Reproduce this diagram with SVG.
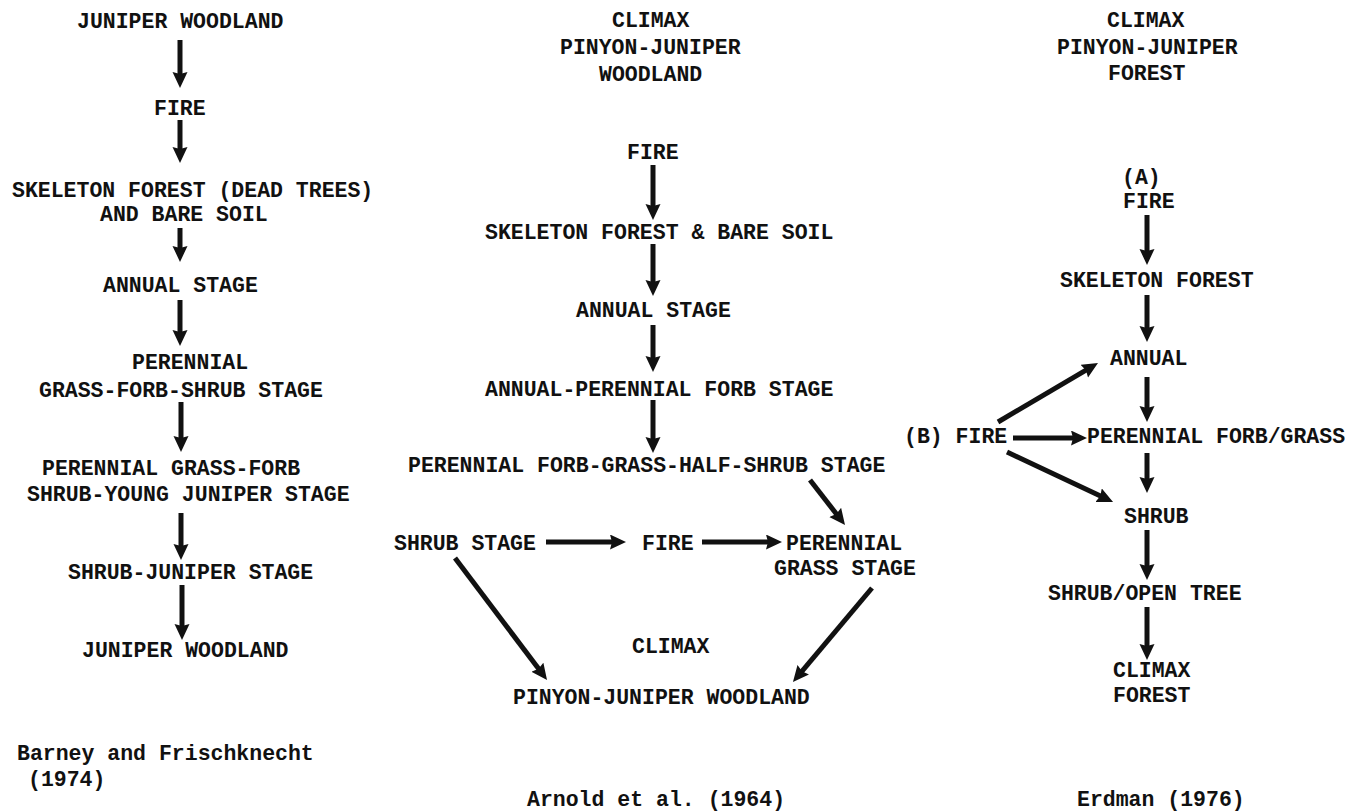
<svg xmlns="http://www.w3.org/2000/svg" width="1345" height="811" viewBox="0 0 1345 811">
<defs>
<style>
text{font-family:"Liberation Mono","DejaVu Sans Mono",monospace;font-size:21.5px;font-weight:bold;fill:#111}
.c line{stroke:#111;stroke-width:5;marker-end:url(#ah)}
</style>
<marker id="ah" markerUnits="userSpaceOnUse" markerWidth="18" markerHeight="16" refX="8" refY="7.5" orient="auto">
<path d="M0,0 L16,7.5 L0,15 L2,7.5 Z" fill="#111"/>
</marker>
</defs>
<rect width="1345" height="811" fill="#fff"/>
<g id="left">
<g id="l1"><text x="77" y="28">JUNIPER WOODLAND</text></g>
<g id="l2"><text x="154" y="115">FIRE</text></g>
<g id="l3"><text x="12" y="197">SKELETON FOREST (DEAD TREES)</text><text x="100" y="221">AND BARE SOIL</text></g>
<g id="l4"><text x="103" y="292">ANNUAL STAGE</text></g>
<g id="l5"><text x="132" y="369">PERENNIAL</text><text x="39" y="397">GRASS-FORB-SHRUB STAGE</text></g>
<g id="l6"><text x="42" y="475">PERENNIAL GRASS-FORB</text><text x="27" y="501">SHRUB-YOUNG JUNIPER STAGE</text></g>
<g id="l7"><text x="68" y="579">SHRUB-JUNIPER STAGE</text></g>
<g id="l8"><text x="82" y="657">JUNIPER WOODLAND</text></g>
<g id="l9"><text x="17" y="760">Barney and Frischknecht</text><text x="28" y="786">(1974)</text></g>
</g>
<g id="middle">
<g id="m1"><text x="612" y="27">CLIMAX</text><text x="560" y="54">PINYON-JUNIPER</text><text x="599" y="81">WOODLAND</text></g>
<g id="m2"><text x="627" y="159">FIRE</text></g>
<g id="m3"><text x="485" y="239">SKELETON FOREST &amp; BARE SOIL</text></g>
<g id="m4"><text x="576" y="317">ANNUAL STAGE</text></g>
<g id="m5"><text x="485" y="396">ANNUAL-PERENNIAL FORB STAGE</text></g>
<g id="m6"><text x="408" y="472">PERENNIAL FORB-GRASS-HALF-SHRUB STAGE</text></g>
<g id="m7"><text x="394" y="550">SHRUB STAGE</text></g>
<g id="m8"><text x="642" y="550">FIRE</text></g>
<g id="m9"><text x="786" y="550">PERENNIAL</text><text x="774" y="575">GRASS STAGE</text></g>
<g id="m10"><text x="632" y="653">CLIMAX</text><text x="513" y="704">PINYON-JUNIPER WOODLAND</text></g>
<g id="m11"><text x="527" y="806">Arnold et al. (1964)</text></g>
</g>
<g id="right">
<g id="r1"><text x="1107" y="27">CLIMAX</text><text x="1057" y="54">PINYON-JUNIPER</text><text x="1108" y="80">FOREST</text></g>
<g id="r2"><text x="1122" y="184">(A)</text><text x="1123" y="208">FIRE</text></g>
<g id="r3"><text x="1060" y="287">SKELETON FOREST</text></g>
<g id="r4"><text x="1110" y="365">ANNUAL</text></g>
<g id="r5"><text x="904" y="443">(B) FIRE</text></g>
<g id="r6"><text x="1087" y="443">PERENNIAL FORB/GRASS</text></g>
<g id="r7"><text x="1124" y="523">SHRUB</text></g>
<g id="r8"><text x="1048" y="600">SHRUB/OPEN TREE</text></g>
<g id="r9"><text x="1113" y="677">CLIMAX</text><text x="1113" y="702">FOREST</text></g>
<g id="r10"><text x="1077" y="806">Erdman (1976)</text></g>
</g>
<g id="connectors" class="c">
<line x1="180" y1="40" x2="180" y2="80"/>
<line x1="180" y1="120" x2="180" y2="155"/>
<line x1="180" y1="228" x2="180" y2="254"/>
<line x1="180" y1="300" x2="180" y2="338"/>
<line x1="181" y1="402" x2="181" y2="444"/>
<line x1="181" y1="513" x2="181" y2="552"/>
<line x1="182" y1="585" x2="182" y2="632"/>
<line x1="653" y1="165" x2="653" y2="212"/>
<line x1="653" y1="244" x2="653" y2="288"/>
<line x1="653" y1="325" x2="653" y2="364"/>
<line x1="653" y1="400" x2="653" y2="445"/>
<line x1="810" y1="480" x2="840.1" y2="518.7"/>
<line x1="546" y1="542" x2="618" y2="542"/>
<line x1="702" y1="542" x2="774" y2="542"/>
<line x1="455" y1="558" x2="542.2" y2="673.6"/>
<line x1="872" y1="588" x2="798.1" y2="675.9"/>
<line x1="1147" y1="215" x2="1147" y2="257"/>
<line x1="1147" y1="295" x2="1147" y2="334"/>
<line x1="1147" y1="377" x2="1147" y2="414"/>
<line x1="1147" y1="453" x2="1147" y2="485"/>
<line x1="1147" y1="530" x2="1147" y2="572"/>
<line x1="1147" y1="607" x2="1147" y2="652"/>
<line x1="998" y1="422" x2="1091.1" y2="367.1"/>
<line x1="1013" y1="438" x2="1079" y2="438"/>
<line x1="1007" y1="452" x2="1105.8" y2="498.6"/>
</g>
</svg>
